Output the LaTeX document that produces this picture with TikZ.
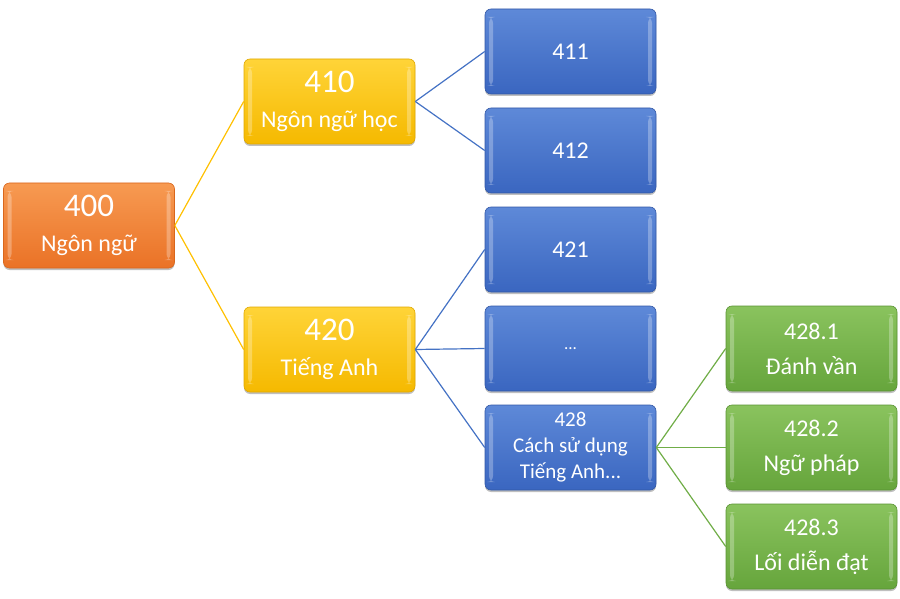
\documentclass[tikz,border=0pt]{standalone}
\usepackage{fontspec}
\setmainfont{Carlito}
\usetikzlibrary{shadows}
\definecolor{orT}{HTML}{F79A52}
\definecolor{orB}{HTML}{EA7226}
\definecolor{orD}{HTML}{D9661C}
\definecolor{yeT}{HTML}{FFD438}
\definecolor{yeB}{HTML}{F5B900}
\definecolor{yeD}{HTML}{E0A800}
\definecolor{blT}{HTML}{5E89D8}
\definecolor{blB}{HTML}{3A66C0}
\definecolor{blD}{HTML}{3358A6}
\definecolor{grT}{HTML}{8AC35E}
\definecolor{grB}{HTML}{66A53C}
\definecolor{grD}{HTML}{5A9334}
\definecolor{lnY}{HTML}{FFC000}
\definecolor{lnB}{HTML}{4472C4}
\definecolor{lnG}{HTML}{70AD47}
\tikzset{
  gbox/.style={rounded corners=6pt, minimum width=171pt, minimum height=85pt,
    inner sep=0pt, align=center, text=white, line width=0.6pt,
    drop shadow={shadow xshift=0pt, shadow yshift=-2pt, opacity=0.25, fill=black},
    path picture={
      \fill[white,opacity=0.28] ([xshift=4pt,yshift=-8pt]path picture bounding box.north west) rectangle ([xshift=8pt,yshift=8pt]path picture bounding box.south west);
      \fill[white,opacity=0.28] ([xshift=-8pt,yshift=-8pt]path picture bounding box.north east) rectangle ([xshift=-4pt,yshift=8pt]path picture bounding box.south east);
    }},
  orbox/.style={gbox, top color=orT, bottom color=orB, draw=orD, font=\fontsize{24}{35}\selectfont},
  yebox/.style={gbox, top color=yeT, bottom color=yeB, draw=yeD, font=\fontsize{24}{35}\selectfont},
  blbox/.style={gbox, top color=blT, bottom color=blB, draw=blD, font=\fontsize{24}{35}\selectfont},
  grbox/.style={gbox, top color=grT, bottom color=grB, draw=grD, font=\fontsize{24}{35}\selectfont},
  lnyel/.style={draw=lnY, line width=1.2pt},
  lnblu/.style={draw=lnB, line width=1.2pt},
  lngrn/.style={draw=lnG, line width=1.2pt},
}
\newcommand{\bigtwo}[2]{{\fontsize{33}{35}\selectfont #1}\\#2}
\begin{document}
\begin{tikzpicture}[x=1pt,y=-1pt]
\useasboundingbox (0,0) rectangle (900,599);
\node[orbox] (n400) at (89,225.5) {\bigtwo{400}{Ngôn ngữ}};
\node[yebox] (n410) at (329.5,101.5) {\bigtwo{410}{Ngôn ngữ học}};
\node[yebox] (n420) at (329.5,349.5) {\bigtwo{420}{Tiếng Anh}};
\node[blbox] (n411) at (570.5,51.5) {411};
\node[blbox] (n412) at (570.5,150.5) {412};
\node[blbox] (n421) at (570.5,249.5) {421};
\node[blbox] (n42x) at (570.5,348.5) {\fontsize{17}{20}\selectfont ...};
\node[blbox, font=\fontsize{21}{26}\selectfont] (n428) at (570.5,447.5) {428\\Cách sử dụng\\Tiếng Anh...};
\node[grbox] (n4281) at (811.5,348.5) {428.1\\Đánh vần};
\node[grbox] (n4282) at (811.5,447.5) {428.2\\Ngữ pháp};
\node[grbox] (n4283) at (811.5,546.5) {428.3\\Lối diễn đạt};
\draw[lnyel] (n400.east) -- (n410.west);
\draw[lnyel] (n400.east) -- (n420.west);
\draw[lnblu] (n410.east) -- (n411.west);
\draw[lnblu] (n410.east) -- (n412.west);
\draw[lnblu] (n420.east) -- (n421.west);
\draw[lnblu] (n420.east) -- (n42x.west);
\draw[lnblu] (n420.east) -- (n428.west);
\draw[lngrn] (n428.east) -- (n4281.west);
\draw[lngrn] (n428.east) -- (n4282.west);
\draw[lngrn] (n428.east) -- (n4283.west);
\end{tikzpicture}
\end{document}
